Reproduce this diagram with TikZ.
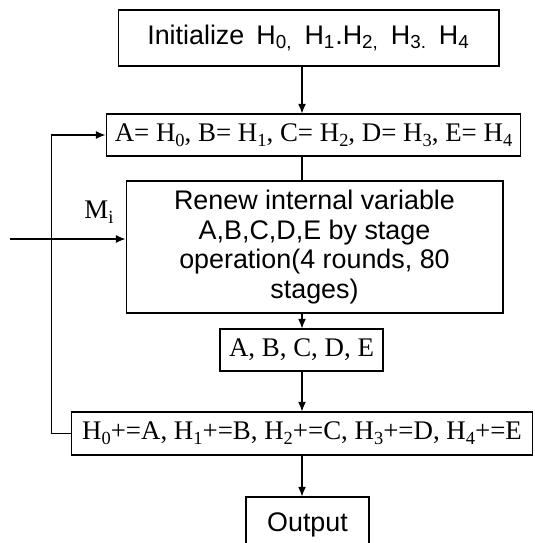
\documentclass[tikz,border=0pt]{standalone}
\usepackage{fontspec}
\setmainfont{Liberation Serif}
\newfontfamily\boxsans{Liberation Sans}
\usetikzlibrary{arrows.meta}

\newcommand\lowsub[1]{\raisebox{-0.42ex}{\fontsize{10.5}{11}\selectfont #1}}

\tikzset{
	box/.style={draw, line width=0.6pt, inner sep=0pt, align=center},
	sansbox/.style={box, font=\boxsans\fontsize{15.3}{15.6}\selectfont},
	serifbox/.style={box, font=\fontsize{15.3}{16}\selectfont},
	flow/.style={line width=0.6pt, -{Latex[length=5.5pt,width=4.5pt]}},
	link/.style={line width=0.6pt}
}

\begin{document}
\begin{tikzpicture}[x=0.02cm, y=-0.02cm]
	\useasboundingbox (0,0) rectangle (534,543);
	\coordinate (axis) at (302,0);

	\node[sansbox, minimum width=7.62cm, minimum height=1.12cm] (init) at (308.5,38)
		{Initialize\hspace{0.45em}H\textsubscript{0,}\hspace{0.45em}H\textsubscript{1}.H\textsubscript{2,}\hspace{0.45em}H\textsubscript{3.}\hspace{0.45em}H\textsubscript{4}};
	\node[serifbox, minimum width=8.3cm, minimum height=0.84cm] (assign) at (313.5,135)
		{A= H\lowsub{0}, B= H\lowsub{1}, C= H\lowsub{2}, D= H\lowsub{3}, E= H\lowsub{4}};
	\node[sansbox, font=\boxsans\fontsize{15.3}{16.8}\selectfont, minimum width=7.54cm, minimum height=2.64cm] (renew) at (314.5,247)
		{Renew internal variable\\A,B,C,D,E by stage\\operation(4 rounds, 80\\stages)};
	\node[serifbox, minimum width=3.26cm, minimum height=0.84cm] (vars) at (301.5,350)
		{A, B, C, D, E};
	\node[serifbox, minimum width=9.24cm, minimum height=0.86cm] (update) at (302,433.5)
		{H\lowsub{0}+=A, H\lowsub{1}+=B, H\lowsub{2}+=C, H\lowsub{3}+=D, H\lowsub{4}+=E};
	\node[sansbox, minimum width=2.46cm, minimum height=1.12cm] (output) at (307.5,525) {Output};

	\node[font=\fontsize{15.3}{16}\selectfont] (mi) at (99,212) {M\lowsub{i}};
	\coordinate (msgin) at (10,239);

	\draw[flow] (init.south -| axis) -- (assign.north -| axis);
	\draw[link] (assign.south -| axis) -- (renew.north -| axis);
	\draw[flow] (renew.south -| axis) -- (vars.north -| axis);
	\draw[flow] (vars.south -| axis) -- (update.north -| axis);
	\draw[flow] (update.south -| axis) -- (output.north -| axis);

	\draw[flow] (update.west) -- ++(-19,0) |- (assign.west);
	\draw[flow] (msgin) -- (msgin -| renew.west);
\end{tikzpicture}
\end{document}
